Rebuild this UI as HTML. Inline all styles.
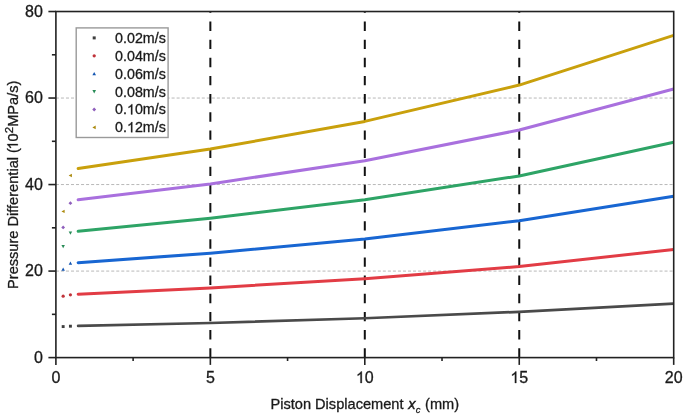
<!DOCTYPE html>
<html><head><meta charset="utf-8"><style>
html,body{margin:0;padding:0;background:#fff;}
svg{display:block;}
text{font-family:"Liberation Sans",sans-serif;fill:#1a1a1a;stroke:#1a1a1a;stroke-width:0.3px;}
svg{will-change:transform;}
.t16{font-size:16px;}
.t14{font-size:14px;}
.t14l{font-size:14.25px;}
.t145{font-size:14.6px;}
.h1{fill:none;stroke:none;}
</style></head><body>
<svg width="685" height="416" viewBox="0 0 685 416">
<defs><clipPath id="pc"><rect x="55.90" y="11.52" width="617.20" height="346.08"/></clipPath></defs>
<rect width="685" height="416" fill="#fff"/>
<line x1="55.90" y1="271.08" x2="673.70" y2="271.08" stroke="#b8b8b8" stroke-width="1" stroke-dasharray="3.02,2.01"/>
<line x1="55.90" y1="184.56" x2="673.70" y2="184.56" stroke="#b8b8b8" stroke-width="1" stroke-dasharray="3.02,2.01"/>
<line x1="55.90" y1="98.04" x2="673.70" y2="98.04" stroke="#b8b8b8" stroke-width="1" stroke-dasharray="3.02,2.01"/>
<line x1="210.35" y1="357.60" x2="210.35" y2="11.52" stroke="#111" stroke-width="2" stroke-dasharray="9.4,8.75"/>
<line x1="364.80" y1="357.60" x2="364.80" y2="11.52" stroke="#111" stroke-width="2" stroke-dasharray="9.4,8.75"/>
<line x1="519.25" y1="357.60" x2="519.25" y2="11.52" stroke="#111" stroke-width="2" stroke-dasharray="9.4,8.75"/>
<path d="M78.14,325.89 L210.35,322.99 L364.80,318.23 L519.25,311.83 L673.70,303.53" fill="none" stroke="#4a4a4a" stroke-width="2.7" stroke-linecap="round" stroke-linejoin="round" clip-path="url(#pc)"/>
<rect x="61.71" y="325.13" width="2.90" height="2.90" fill="#3e3e3e"/>
<rect x="68.97" y="324.74" width="2.90" height="2.90" fill="#3e3e3e"/>
<path d="M78.14,294.22 L210.35,287.95 L364.80,278.65 L519.25,266.54 L673.70,249.45" fill="none" stroke="#e23c45" stroke-width="3.0" stroke-linecap="round" stroke-linejoin="round" clip-path="url(#pc)"/>
<circle cx="63.16" cy="296.17" r="1.59" fill="#c0333a"/>
<circle cx="70.42" cy="294.87" r="1.59" fill="#c0333a"/>
<path d="M78.14,262.64 L210.35,253.13 L364.80,239.07 L519.25,220.68 L673.70,196.24" fill="none" stroke="#1866d2" stroke-width="3.0" stroke-linecap="round" stroke-linejoin="round" clip-path="url(#pc)"/>
<polygon points="63.16,267.61 64.90,270.80 61.42,270.80" fill="#1456b2"/>
<polygon points="70.42,261.55 72.16,264.74 68.68,264.74" fill="#1456b2"/>
<path d="M78.14,231.28 L210.35,218.30 L364.80,199.70 L519.25,175.91 L673.70,142.17" fill="none" stroke="#2ea466" stroke-width="3.0" stroke-linecap="round" stroke-linejoin="round" clip-path="url(#pc)"/>
<polygon points="63.16,248.16 64.90,244.97 61.42,244.97" fill="#278b56"/>
<polygon points="70.42,234.75 72.16,231.56 68.68,231.56" fill="#278b56"/>
<path d="M78.14,199.70 L210.35,183.91 L364.80,160.77 L519.25,130.05 L673.70,88.96" fill="none" stroke="#a970de" stroke-width="3.0" stroke-linecap="round" stroke-linejoin="round" clip-path="url(#pc)"/>
<polygon points="63.16,225.50 65.04,227.39 63.16,229.27 61.27,227.39" fill="#8f5fbc"/>
<polygon points="70.42,201.28 72.30,203.16 70.42,205.05 68.53,203.16" fill="#8f5fbc"/>
<path d="M78.14,168.55 L210.35,149.09 L364.80,121.40 L519.25,85.06 L673.70,35.31" fill="none" stroke="#c9a00c" stroke-width="3.0" stroke-linecap="round" stroke-linejoin="round" clip-path="url(#pc)"/>
<polygon points="61.42,211.38 64.61,209.64 64.61,213.12" fill="#aa880a"/>
<polygon points="68.68,175.48 71.87,173.74 71.87,177.22" fill="#aa880a"/>
<rect x="55.90" y="11.52" width="617.80" height="346.08" fill="none" stroke="#222" stroke-width="1.6"/>
<line x1="48.40" y1="357.60" x2="55.90" y2="357.60" stroke="#222" stroke-width="1.6"/>
<line x1="51.90" y1="314.34" x2="55.90" y2="314.34" stroke="#222" stroke-width="1.6"/>
<line x1="48.40" y1="271.08" x2="55.90" y2="271.08" stroke="#222" stroke-width="1.6"/>
<line x1="51.90" y1="227.82" x2="55.90" y2="227.82" stroke="#222" stroke-width="1.6"/>
<line x1="48.40" y1="184.56" x2="55.90" y2="184.56" stroke="#222" stroke-width="1.6"/>
<line x1="51.90" y1="141.30" x2="55.90" y2="141.30" stroke="#222" stroke-width="1.6"/>
<line x1="48.40" y1="98.04" x2="55.90" y2="98.04" stroke="#222" stroke-width="1.6"/>
<line x1="51.90" y1="54.78" x2="55.90" y2="54.78" stroke="#222" stroke-width="1.6"/>
<line x1="48.40" y1="11.52" x2="55.90" y2="11.52" stroke="#222" stroke-width="1.6"/>
<line x1="55.90" y1="357.60" x2="55.90" y2="364.90" stroke="#222" stroke-width="1.6"/>
<line x1="133.12" y1="357.60" x2="133.12" y2="361.00" stroke="#222" stroke-width="1.6"/>
<line x1="210.35" y1="357.60" x2="210.35" y2="364.90" stroke="#222" stroke-width="1.6"/>
<line x1="287.57" y1="357.60" x2="287.57" y2="361.00" stroke="#222" stroke-width="1.6"/>
<line x1="364.80" y1="357.60" x2="364.80" y2="364.90" stroke="#222" stroke-width="1.6"/>
<line x1="442.02" y1="357.60" x2="442.02" y2="361.00" stroke="#222" stroke-width="1.6"/>
<line x1="519.25" y1="357.60" x2="519.25" y2="364.90" stroke="#222" stroke-width="1.6"/>
<line x1="596.48" y1="357.60" x2="596.48" y2="361.00" stroke="#222" stroke-width="1.6"/>
<line x1="673.70" y1="357.60" x2="673.70" y2="364.90" stroke="#222" stroke-width="1.6"/>
<text x="42.9" y="363.00" text-anchor="end" class="t16">0</text>
<text x="42.9" y="276.48" text-anchor="end" class="t16">20</text>
<text x="42.9" y="189.96" text-anchor="end" class="t16">40</text>
<text x="42.9" y="103.44" text-anchor="end" class="t16">60</text>
<text x="42.9" y="16.92" text-anchor="end" class="t16">80</text>
<text x="55.90" y="383" text-anchor="middle" class="t16">0</text>
<text x="210.35" y="383" text-anchor="middle" class="t16">5</text>
<text x="364.80" y="383" text-anchor="middle" class="t16"><tspan class="h1">1</tspan>0</text>
<text x="519.25" y="383" text-anchor="middle" class="t16"><tspan class="h1">1</tspan>5</text>
<text x="673.70" y="383" text-anchor="middle" class="t16">20</text>
<text x="364.8" y="408.8" text-anchor="middle" class="t145">Piston Displacement <tspan font-style="italic" stroke="#1a1a1a" stroke-width="0.45" dx="0.6">x</tspan><tspan font-style="italic" font-size="9.5" dy="4" stroke="#1a1a1a" stroke-width="0.3" dx="0.3">c</tspan><tspan dy="-4" dx="0.5"> (mm)</tspan></text>
<text transform="translate(17.8,184.8) rotate(-90)" text-anchor="middle" class="t145">Pressure Differential (<tspan class="h1" dx="-1.4">1</tspan>0<tspan font-size="11.5" dy="-5">2</tspan><tspan dy="5">MPa/s)</tspan></text>
<rect x="76.2" y="27.9" width="91.9" height="109.6" fill="#fff" stroke="#9a9a9a" stroke-width="1.4"/>
<rect x="92.70" y="36.40" width="3.00" height="3.00" fill="#3e3e3e"/>
<text x="115.1" y="42.80" class="t14l">0.02m/s</text>
<circle cx="94.20" cy="55.80" r="1.65" fill="#c0333a"/>
<text x="115.1" y="60.70" class="t14l">0.04m/s</text>
<polygon points="94.20,71.90 96.00,75.20 92.40,75.20" fill="#1456b2"/>
<text x="115.1" y="78.60" class="t14l">0.06m/s</text>
<polygon points="94.20,93.40 96.00,90.10 92.40,90.10" fill="#278b56"/>
<text x="115.1" y="96.50" class="t14l">0.08m/s</text>
<polygon points="94.20,107.55 96.15,109.50 94.20,111.45 92.25,109.50" fill="#8f5fbc"/>
<text x="115.1" y="114.40" class="t14l">0.<tspan class="h1">1</tspan>0m/s</text>
<polygon points="92.40,127.40 95.70,125.60 95.70,129.20" fill="#aa880a"/>
<text x="115.1" y="132.30" class="t14l">0.<tspan class="h1">1</tspan>2m/s</text>
<path d="M361.85,383.00L360.45,383.00L360.45,374.04Q359.94,374.52 359.11,375.01Q358.29,375.49 357.64,375.73L357.64,374.38Q358.82,373.82 359.70,373.03Q360.58,372.24 360.95,371.50L361.85,371.50Z" fill="#1a1a1a" stroke="#1a1a1a" stroke-width="0.3"/>
<path d="M516.30,383.00L514.90,383.00L514.90,374.04Q514.39,374.52 513.56,375.01Q512.74,375.49 512.09,375.73L512.09,374.38Q513.27,373.82 514.15,373.03Q515.03,372.24 515.40,371.50L516.30,371.50Z" fill="#1a1a1a" stroke="#1a1a1a" stroke-width="0.3"/>
<g transform="translate(17.8,184.8) rotate(-90)"><path d="M40.73,0.00L39.45,0.00L39.45,-8.18Q38.98,-7.73 38.23,-7.29Q37.48,-6.85 36.88,-6.63L36.88,-7.87Q37.96,-8.38 38.76,-9.10Q39.57,-9.82 39.90,-10.49L40.73,-10.49Z" fill="#1a1a1a" stroke="#1a1a1a" stroke-width="0.3"/></g>
<path d="M132.30,114.40L131.05,114.40L131.05,106.42Q130.59,106.85 129.86,107.28Q129.13,107.71 128.54,107.93L128.54,106.72Q129.59,106.22 130.38,105.52Q131.17,104.82 131.49,104.16L132.30,104.16Z" fill="#1a1a1a" stroke="#1a1a1a" stroke-width="0.3"/>
<path d="M132.30,132.30L131.05,132.30L131.05,124.32Q130.59,124.75 129.86,125.18Q129.13,125.61 128.54,125.83L128.54,124.62Q129.59,124.12 130.38,123.42Q131.17,122.72 131.49,122.06L132.30,122.06Z" fill="#1a1a1a" stroke="#1a1a1a" stroke-width="0.3"/>
</svg>
</body></html>
